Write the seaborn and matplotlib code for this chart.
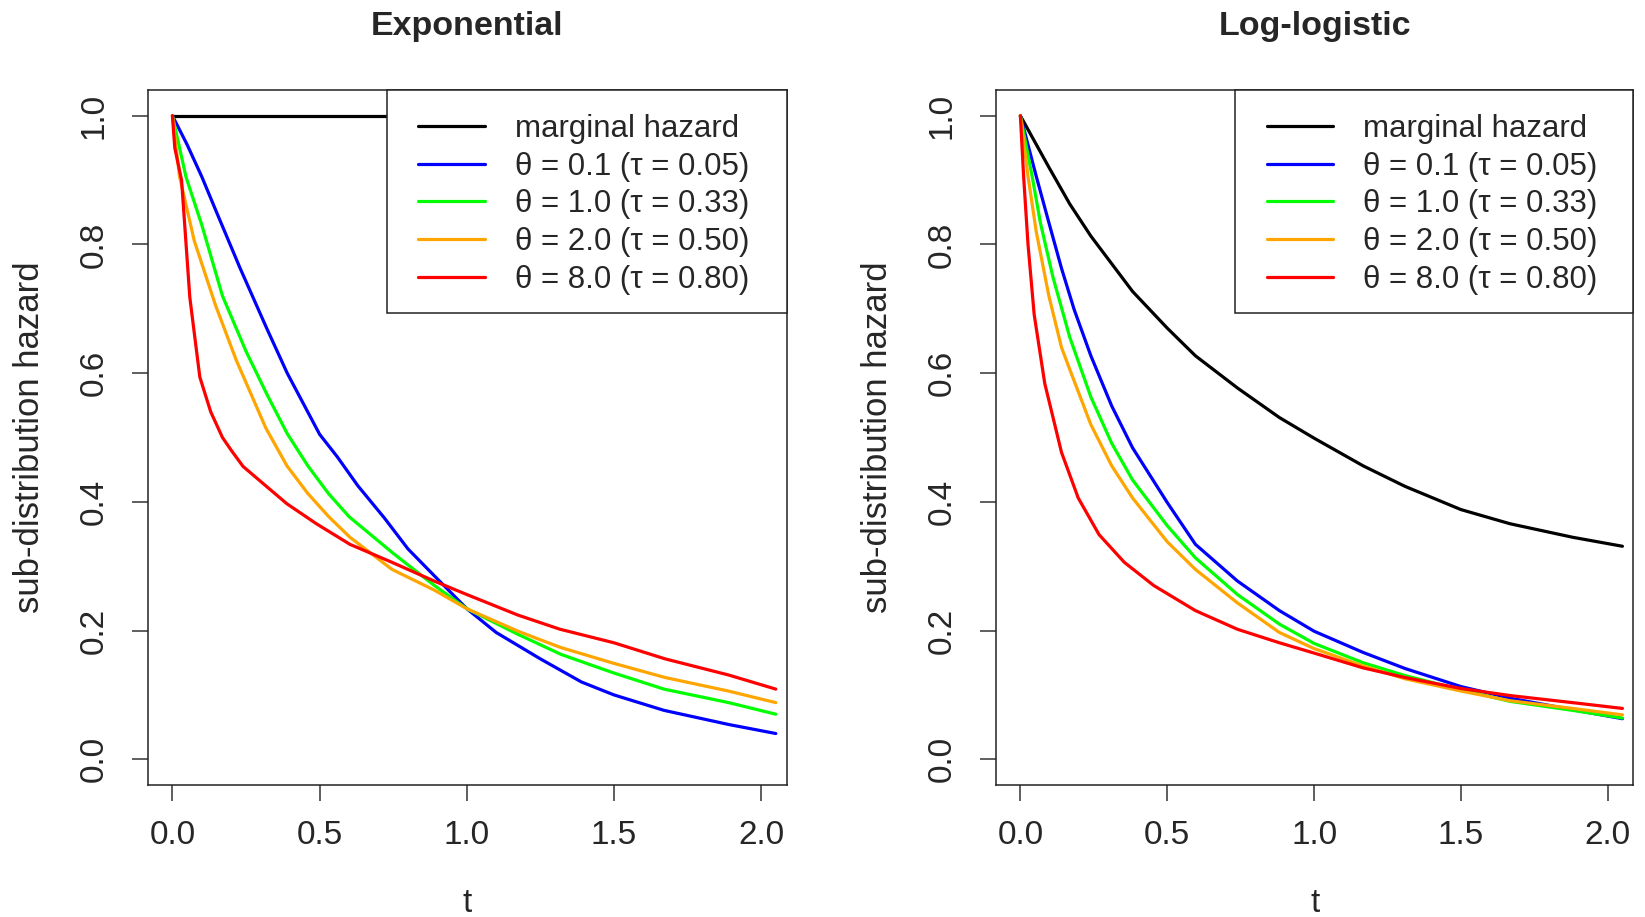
import numpy as np
import matplotlib
matplotlib.use('Agg')
import matplotlib.pyplot as plt
from matplotlib.patches import Rectangle
import pandas as pd
import seaborn as sns

# Series labels and colours (R base colours)
labels = ['marginal hazard', 'θ = 0.1 (τ = 0.05)', 'θ = 1.0 (τ = 0.33)',
          'θ = 2.0 (τ = 0.50)', 'θ = 8.0 (τ = 0.80)']
colors = ['black', '#0000FF', '#00FF00', '#FFA500', '#FF0000']

# Exponential panel
exp_marg_t = [0.0, 2.05]
exp_marg_h = [1.0, 1.0]
exp_blue_t = [0, 0.05, 0.10, 0.15, 0.23, 0.32, 0.39, 0.50, 0.56, 0.63, 0.72, 0.80, 0.89, 1.00, 1.10, 1.25, 1.39, 1.50, 1.67, 1.89, 2.05]
exp_blue_h = [1.0, 0.955, 0.905, 0.85, 0.763, 0.67, 0.60, 0.505, 0.47, 0.425, 0.375, 0.327, 0.285, 0.234, 0.197, 0.156, 0.12, 0.10, 0.076, 0.054, 0.04]
exp_green_t = [0, 0.046, 0.10, 0.17, 0.25, 0.32, 0.39, 0.46, 0.53, 0.60, 0.75, 0.89, 1.00, 1.17, 1.32, 1.50, 1.67, 1.89, 2.05]
exp_green_h = [1.0, 0.905, 0.83, 0.72, 0.634, 0.568, 0.506, 0.456, 0.413, 0.377, 0.32, 0.27, 0.234, 0.195, 0.163, 0.134, 0.109, 0.088, 0.07]
exp_orange_t = [0, 0.024, 0.074, 0.146, 0.217, 0.317, 0.389, 0.46, 0.531, 0.603, 0.746, 0.889, 1.0, 1.174, 1.317, 1.5, 1.674, 1.889, 2.05]
exp_orange_h = [1.0, 0.906, 0.806, 0.706, 0.62, 0.515, 0.456, 0.413, 0.377, 0.345, 0.295, 0.263, 0.234, 0.199, 0.174, 0.149, 0.127, 0.106, 0.088]
exp_red_t = [0, 0.008, 0.031, 0.059, 0.093, 0.13, 0.17, 0.20, 0.24, 0.317, 0.389, 0.489, 0.603, 0.746, 0.889, 1.0, 1.174, 1.317, 1.5, 1.674, 1.889, 2.05]
exp_red_h = [1.0, 0.95, 0.90, 0.718, 0.594, 0.54, 0.50, 0.48, 0.455, 0.425, 0.397, 0.366, 0.334, 0.306, 0.277, 0.256, 0.224, 0.202, 0.181, 0.156, 0.131, 0.109]

# Log-logistic panel
ll_marg_t = [0, 0.097, 0.168, 0.24, 0.311, 0.382, 0.5, 0.596, 0.739, 0.882, 1.0, 1.167, 1.31, 1.5, 1.667, 1.88, 2.05]
ll_marg_h = [1.0, 0.92, 0.863, 0.813, 0.77, 0.727, 0.67, 0.627, 0.577, 0.531, 0.499, 0.456, 0.424, 0.388, 0.366, 0.345, 0.331]
ll_blue_t = [0, 0.054, 0.097, 0.14, 0.183, 0.24, 0.311, 0.382, 0.5, 0.596, 0.739, 0.882, 1.0, 1.167, 1.31, 1.5, 1.667, 1.88, 2.05]
ll_blue_h = [1.0, 0.906, 0.834, 0.763, 0.699, 0.627, 0.549, 0.484, 0.399, 0.334, 0.277, 0.231, 0.199, 0.166, 0.141, 0.113, 0.095, 0.077, 0.063]
ll_green_t = [0, 0.04, 0.068, 0.111, 0.168, 0.24, 0.311, 0.382, 0.5, 0.596, 0.739, 0.882, 1.0, 1.167, 1.31, 1.5, 1.667, 1.88, 2.05]
ll_green_h = [1.0, 0.906, 0.834, 0.749, 0.656, 0.563, 0.491, 0.434, 0.363, 0.313, 0.256, 0.21, 0.18, 0.15, 0.13, 0.108, 0.09, 0.076, 0.064]
ll_orange_t = [0, 0.026, 0.054, 0.097, 0.14, 0.168, 0.24, 0.311, 0.382, 0.5, 0.596, 0.739, 0.882, 1.0, 1.167, 1.31, 1.5, 1.667, 1.88, 2.05]
ll_orange_h = [1.0, 0.906, 0.82, 0.72, 0.64, 0.606, 0.52, 0.456, 0.406, 0.338, 0.295, 0.243, 0.197, 0.172, 0.145, 0.125, 0.106, 0.091, 0.079, 0.069]
ll_red_t = [0, 0.011, 0.026, 0.047, 0.083, 0.14, 0.197, 0.268, 0.354, 0.454, 0.596, 0.739, 0.882, 1.0, 1.167, 1.31, 1.5, 1.667, 1.88, 2.05]
ll_red_h = [1.0, 0.906, 0.80, 0.691, 0.584, 0.477, 0.406, 0.349, 0.306, 0.27, 0.231, 0.202, 0.181, 0.165, 0.142, 0.127, 0.11, 0.099, 0.088, 0.079]

x_ticks = [0.0, 0.5, 1.0, 1.5, 2.0]
y_ticks = [0.0, 0.2, 0.4, 0.6, 0.8, 1.0]
titles = ['Exponential', 'Log-logistic']


def long_frame(pairs):
    parts = []
    for lab, (t, h) in zip(labels, pairs):
        parts.append(pd.DataFrame({'t': t, 'h': h, 'series': lab}))
    return pd.concat(parts, ignore_index=True)


exp_df = long_frame([(exp_marg_t, exp_marg_h), (exp_blue_t, exp_blue_h), (exp_green_t, exp_green_h),
                     (exp_orange_t, exp_orange_h), (exp_red_t, exp_red_h)])
ll_df = long_frame([(ll_marg_t, ll_marg_h), (ll_blue_t, ll_blue_h), (ll_green_t, ll_green_h),
                    (ll_orange_t, ll_orange_h), (ll_red_t, ll_red_h)])

sns.set_style('ticks')
plt.rcParams['font.family'] = ['Liberation Sans', 'DejaVu Sans']
plt.rcParams['axes.linewidth'] = 1.1

W, H = 1645, 917
fig = plt.figure(figsize=(W / 100, H / 100), dpi=100)
ax1 = fig.add_axes([148 / W, 1 - 785 / H, 638.7 / W, 695 / H])
ax2 = fig.add_axes([996 / W, 1 - 785 / H, 637.3 / W, 695 / H])

for ax, df, title, hx in zip([ax1, ax2], [exp_df, ll_df], titles, [0.4227, 0.4245]):
    sns.lineplot(data=df, x='t', y='h', hue='series', hue_order=labels, palette=colors,
                 estimator=None, sort=False, linewidth=2.3, ax=ax)
    ax.set_xlim(-0.083, 2.087)
    ax.set_ylim(-0.04, 1.04)
    ax.set_xticks(x_ticks)
    ax.set_xticklabels([f'{v:.1f}' for v in x_ticks])
    ax.set_yticks(y_ticks)
    ax.set_yticklabels([f'{v:.1f}' for v in y_ticks], rotation=90, va='center')
    ax.tick_params(axis='both', labelsize=24, length=11.5, width=1.1, color='#333333')
    ax.tick_params(axis='x', pad=13.5)
    ax.tick_params(axis='y', pad=16)
    for s in ax.spines.values():
        s.set_visible(True)
        s.set_color('#222222')
    ax.set_xlabel('')
    ax.set_ylabel('sub-distribution hazard', fontsize=25)
    ax.yaxis.set_label_coords(-0.16, 0.5)

    # legend box in the R style: white box flush with the top right corner
    ax.add_patch(Rectangle((0.3745, 0.6791), 0.6255, 0.3209, transform=ax.transAxes,
                           facecolor='white', edgecolor='#222222', linewidth=1.1,
                           zorder=4, clip_on=False))
    leg = ax.legend(loc='upper left', bbox_to_anchor=(hx, 0.9658), borderaxespad=0,
                    fontsize=22.5, frameon=False, handlelength=2.14, handletextpad=0.96,
                    borderpad=0, labelspacing=0.25)
    leg.set_zorder(5)
    for ln in leg.get_lines():
        ln.set_linewidth(2.3)

    cx = ax.get_position().x0 + ax.get_position().width / 2
    fig.text(cx, 1 - 27 / H, title, ha='center', va='center', fontsize=24.5, fontweight='bold')
    fig.text(cx, 1 - 903 / H, 't', ha='center', va='center', fontsize=24)

fig.savefig('out.png', dpi=100)
